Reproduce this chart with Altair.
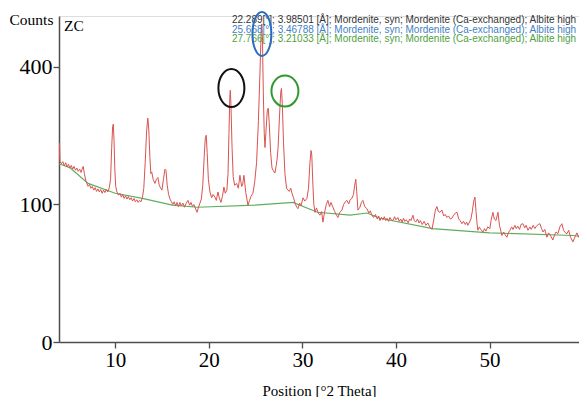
import altair as alt
import pandas as pd

# ---- measured XRD trace (2theta in degrees, counts) ----
pos = [4.00,4.05,4.10,4.25,4.40,4.55,4.70,4.85,5.00,5.15,5.30,5.45,5.60,5.75,5.90,6.05,6.20,6.35,6.50,6.58,
       6.70,6.85,6.97,7.10,7.25,7.40,7.55,7.70,7.85,8.00,8.15,8.30,8.45,8.60,8.75,8.90,9.05,9.20,9.35,9.50,
       9.62,9.72,9.79,9.87,9.95,10.05,10.18,10.35,10.50,10.65,10.80,10.95,11.10,11.25,11.40,11.55,11.70,11.85,12.00,12.15,
       12.30,12.45,12.60,12.75,12.90,13.05,13.20,13.35,13.48,13.58,13.70,13.80,13.90,14.05,14.24,14.40,14.56,14.70,14.85,14.99,
       15.15,15.31,15.42,15.55,15.70,15.85,16.00,16.15,16.30,16.45,16.60,16.75,16.91,17.05,17.23,17.40,17.55,17.77,17.95,18.10,
       18.25,18.40,18.55,18.73,18.90,19.05,19.20,19.35,19.50,19.62,19.72,19.82,19.95,20.12,20.30,20.45,20.65,20.80,20.97,21.12,
       21.29,21.45,21.61,21.75,21.93,22.05,22.15,22.24,22.29,22.36,22.48,22.60,22.75,22.97,23.15,23.32,23.50,23.60,23.75,23.95,
       24.18,24.35,24.50,24.71,24.90,25.10,25.30,25.48,25.60,25.66,25.73,25.82,25.92,26.00,26.12,26.25,26.35,26.45,26.60,26.75,
       26.90,27.06,27.20,27.28,27.40,27.55,27.68,27.76,27.85,27.98,28.13,28.30,28.45,28.60,28.75,28.88,29.05,29.25,29.40,29.52,
       29.70,29.85,30.06,30.25,30.48,30.65,30.80,30.92,31.00,31.12,31.22,31.34,31.50,31.70,31.87,32.05,32.19,32.35,32.55,32.72,
       32.90,33.05,33.26,33.45,33.60,33.79,34.00,34.22,34.40,34.58,34.75,34.95,35.10,35.28,35.45,35.58,35.70,35.80,35.93,36.14,
       36.30,36.46,36.65,36.89,37.10,37.25,37.42,37.60,37.80,38.00,38.15,38.28,38.45,38.60,38.75,38.90,39.03,39.20,39.35,39.50,
       39.67,39.85,40.00,40.20,40.35,40.50,40.65,40.80,40.95,41.10,41.30,41.45,41.60,41.81,41.95,42.10,42.30,42.45,42.60,42.80,
       43.00,43.20,43.40,43.60,43.84,44.05,44.20,44.37,44.52,44.69,44.90,45.10,45.25,45.44,45.60,45.80,45.97,46.15,46.35,46.51,
       46.70,46.85,47.04,47.20,47.40,47.55,47.68,47.85,48.00,48.15,48.30,48.43,48.55,48.65,48.75,48.90,49.05,49.29,49.45,49.60,
       49.80,50.03,50.15,50.35,50.50,50.67,50.80,50.89,51.05,51.20,51.31,51.50,51.65,51.85,52.00,52.17,52.35,52.50,52.70,52.85,
       53.00,53.20,53.35,53.56,53.75,53.90,54.10,54.30,54.45,54.65,54.84,55.00,55.20,55.37,55.55,55.70,55.90,56.12,56.30,56.50,
       56.76,56.95,57.10,57.30,57.50,57.72,57.90,58.10,58.26,58.45,58.65,58.90,59.10,59.33,59.50,59.65,59.80,59.92,59.97,60.02,
       60.07]
counts = [176,209,172,168,172,164,170,162,167,160,165,158,163,156,160,154,158,152,160,163,
          150,138,133,128,131,125,128,122,126,120,124,119,123,117,122,118,123,119,125,140,
          200,245,251,215,160,128,119,114,117,111,115,109,113,108,112,107,110,105,109,104,
          107,103,106,104,110,125,170,235,265,240,180,150,153,140,133,140,143,130,125,122,
          140,158,156,130,115,108,104,100,104,98,103,97,103,98,102,96,101,106,99,103,
          97,100,95,89,96,102,108,130,180,220,226,190,140,119,110,115,111,106,119,110,
          103,112,127,117,122,150,230,315,335,300,200,145,130,133,125,147,128,130,147,118,
          99,106,112,117,135,170,260,400,520,535,480,330,230,200,240,285,289,255,190,160,
          155,151,165,175,200,270,330,340,300,210,150,125,122,120,125,117,110,100,96,94,
          102,98,110,105,109,125,170,194,185,130,100,89,95,88,85,90,76,88,100,106,
          97,103,96,90,86,82,89,92,100,104,106,101,107,109,115,130,140,120,92,96,
          103,106,97,94,88,91,85,82,86,80,84,78,82,79,83,78,81,77,82,79,
          78,83,79,82,77,80,76,81,77,79,75,80,78,85,78,76,80,75,78,73,
          77,72,75,70,67,80,92,97,90,89,92,84,86,82,84,80,81,85,88,89,
          80,78,74,77,73,76,72,76,80,90,105,111,90,75,66,70,67,64,68,65,
          70,68,78,89,80,78,84,89,72,65,60,64,61,58,63,66,70,67,72,68,
          71,67,73,74,69,72,66,70,67,72,68,71,73,74,68,64,67,58,63,60,
          55,61,64,62,70,74,66,63,62,66,58,53,58,63,58,62,66,80,85,60,
          47]

# ---- fitted background ----
bg_pos = [4.00, 5.20, 7.10, 10.00, 12.90, 16.10, 18.80, 24.90, 29.00, 31.60, 35.10, 36.90, 38.30, 43.90, 50.00, 58.90, 60.40]
bg_counts = [168, 160, 133, 117, 109, 99, 96, 99, 103, 89, 85, 88, 81, 68, 63, 60, 58]

# ---- peak list text ----
ann_text = [
    "22.289[°]; 3.98501 [Å]; Mordenite, syn; Mordenite (Ca-exchanged); Albite  high",
    "25.668[°]; 3.46788 [Å]; Mordenite, syn; Mordenite (Ca-exchanged); Albite  high",
    "27.766[°]; 3.21033 [Å]; Mordenite, syn; Mordenite (Ca-exchanged); Albite  high",
]
ann_pos = [22.47, 22.47, 22.47]
ann_counts = [547, 515, 484]
ann_color = ["#333333", "#3f7fc4", "#4f9f3f"]

# ---- circled peaks ----
mark_pos = [22.41, 25.67, 28.13]
mark_counts = [341, 502, 333]
mark_color = ["#111111", "#2a6cc0", "#2e9a2e"]
mark_rx = [0.684, 0.43, 0.87]
mark_size = [1444, 1936, 961]

trace = pd.DataFrame({"pos": pos, "counts": counts})
bg = pd.DataFrame({"pos": bg_pos, "counts": bg_counts})
ann = pd.DataFrame({"pos": ann_pos, "counts": ann_counts, "text": ann_text, "color": ann_color})

xscale = alt.Scale(domain=[3.99, 59.55], nice=False, zero=False)
yscale = alt.Scale(type="sqrt", domain=[0, 562], nice=False)

serif = "Liberation Serif"
xaxis = alt.Axis(values=[10, 20, 30, 40, 50], title="Position [°2 Theta]", grid=False,
                 labelFont=serif, labelFontSize=21, labelColor="black", labelPadding=1,
                 tickSize=6, tickColor="#4d4d4d", tickWidth=1.3, domainColor="#4d4d4d", domainWidth=1.5,
                 titleFont=serif, titleFontSize=15, titleFontWeight="normal", titleColor="black",
                 titleY=53, titleBaseline="alphabetic", labelFlush=False)
yaxis = alt.Axis(values=[0, 100, 400], title="Counts", grid=False,
                 labelFont=serif, labelFontSize=22, labelColor="black", labelPadding=1,
                 tickSize=6, tickColor="#4d4d4d", tickWidth=1.3, domainColor="#4d4d4d", domainWidth=1.5,
                 titleFont=serif, titleFontSize=15.5, titleFontWeight="normal", titleColor="black",
                 titleAngle=0, titleAlign="center", titleBaseline="alphabetic", titleX=-28, titleY=8,
                 labelFlush=False)

green = alt.Chart(bg).mark_line(color="#5fae5f", strokeWidth=1.2, clip=True).encode(
    x=alt.X("pos:Q", scale=xscale, axis=xaxis),
    y=alt.Y("counts:Q", scale=yscale, axis=yaxis),
)
red = alt.Chart(trace).mark_line(color="#d9534f", strokeWidth=1, clip=True).encode(
    x=alt.X("pos:Q", scale=xscale),
    y=alt.Y("counts:Q", scale=yscale),
)
texts = alt.Chart(ann).mark_text(align="left", baseline="middle", font="Liberation Sans", fontSize=10).encode(
    x=alt.X("pos:Q", scale=xscale),
    y=alt.Y("counts:Q", scale=yscale),
    text="text:N",
    color=alt.Color("color:N", scale=None),
)
zc = alt.Chart(pd.DataFrame({"pos": [4.52], "counts": [512], "t": ["ZC"]})).mark_text(
    align="left", baseline="alphabetic", font=serif, fontSize=15.5, color="black").encode(
    x=alt.X("pos:Q", scale=xscale), y=alt.Y("counts:Q", scale=yscale), text="t:N")

rings = []
for px, pc, col, rx, sz in zip(mark_pos, mark_counts, mark_color, mark_rx, mark_size):
    path = f"M {-rx} 0 A {rx} 1 0 1 0 {rx} 0 A {rx} 1 0 1 0 {-rx} 0 Z"
    rings.append(
        alt.Chart(pd.DataFrame({"pos": [px], "counts": [pc]})).mark_point(
            shape=path, size=sz, filled=False, stroke=col, strokeWidth=2, opacity=1).encode(
            x=alt.X("pos:Q", scale=xscale), y=alt.Y("counts:Q", scale=yscale))
    )

chart = alt.layer(green, red, texts, zc, *rings).properties(
    width=520, height=326,
    padding={"left": 51, "top": 8, "right": 0, "bottom": 55},
    autosize="none",
).configure_view(stroke=None).configure(background="white")

chart.save("out.html", embed_options={"renderer": "svg", "actions": False})
